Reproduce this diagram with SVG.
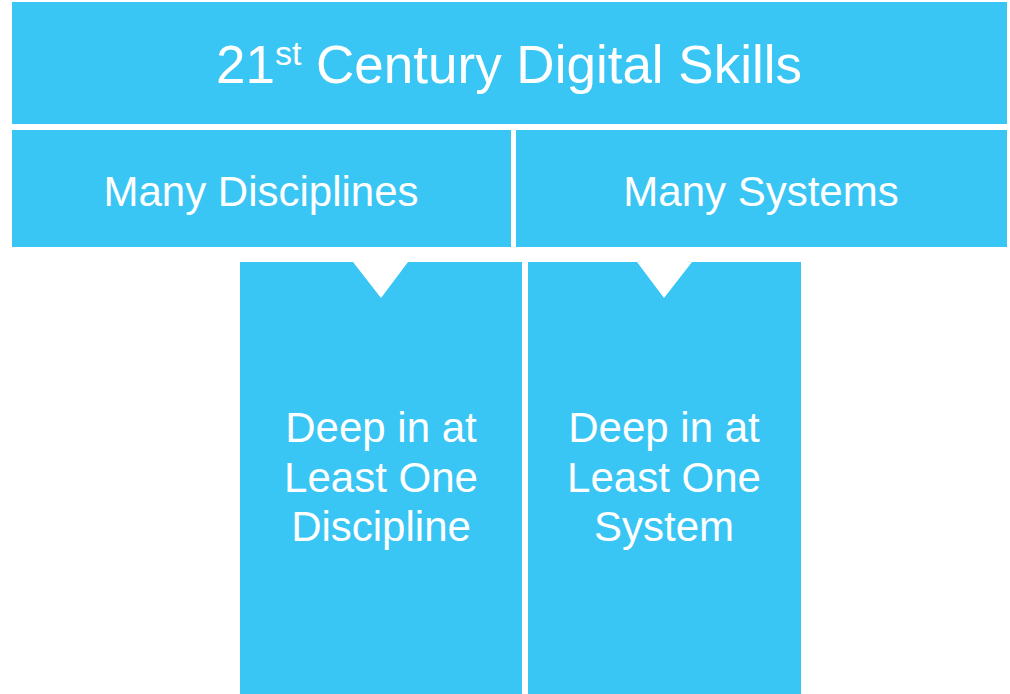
<svg xmlns="http://www.w3.org/2000/svg" width="1010" height="694" viewBox="0 0 1010 694">
<style>
.box{fill:#3AC6F4;}
.t{fill:#FFFFFF;font-family:"Liberation Sans",Arial,sans-serif;text-anchor:middle;}
</style>
<rect width="1010" height="694" fill="#FFFFFF"/>
<g id="title">
<rect class="box" x="12" y="2" width="995" height="122"/>
<text class="t" x="509" y="83" font-size="53">21<tspan font-size="34" dy="-18">st</tspan><tspan dy="18"> Century Digital Skills</tspan></text>
</g>
<g id="many-disciplines">
<rect class="box" x="12" y="130" width="499" height="117"/>
<text class="t" x="261" y="206" font-size="42">Many Disciplines</text>
</g>
<g id="many-systems">
<rect class="box" x="516" y="130" width="491" height="117"/>
<text class="t" x="761" y="206" font-size="42">Many Systems</text>
</g>
<g id="deep-discipline">
<path class="box" d="M240,262 H353 L381,298 L408,262 H522 V694 H240 Z"/>
<text class="t" font-size="42"><tspan x="381" y="442">Deep in at</tspan><tspan x="381" y="492">Least One</tspan><tspan x="381" y="541">Discipline</tspan></text>
</g>
<g id="deep-system">
<path class="box" d="M528,262 H637 L664,298 L692,262 H801 V694 H528 Z"/>
<text class="t" font-size="42"><tspan x="664" y="442">Deep in at</tspan><tspan x="664" y="492">Least One</tspan><tspan x="664" y="541">System</tspan></text>
</g>
<g id="connectors"></g>
</svg>
